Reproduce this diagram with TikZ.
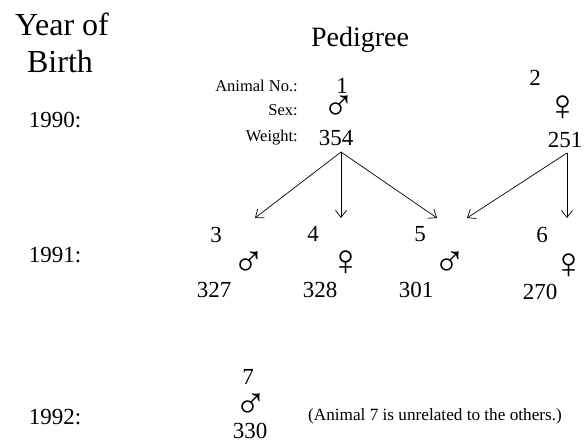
\documentclass[tikz,border=0pt]{standalone}
\usepackage{fontspec}
\setmainfont{Liberation Serif}
\usetikzlibrary{arrows.meta,positioning}

\begin{document}
\begin{tikzpicture}[x=1pt, y=-1pt,
  head/.style={font=\fontsize{32}{36}\selectfont, inner sep=0pt, anchor=base},
  ttl/.style={font=\fontsize{28}{33}\selectfont, inner sep=0pt, anchor=base},
  yr/.style={font=\fontsize{23}{25}\selectfont, inner sep=0pt},
  aid/.style={font=\fontsize{23}{25}\selectfont, inner sep=0pt},
  sx/.style={font=\fontsize{44}{46}\selectfont, inner sep=0pt},
  wt/.style={font=\fontsize{23}{25}\selectfont, inner sep=0pt},
  key/.style={font=\fontsize{16.5}{18}\selectfont, inner sep=0pt, anchor=base east},
  note/.style={font=\fontsize{17.2}{19}\selectfont, inner sep=0pt, anchor=base},
  link/.style={->, line width=0.7pt},
  >={Straight Barb[length=7pt,width=11pt]}]

  \useasboundingbox (0,0) rectangle (584,443);

  % headings
  \node[head] (hyear) at (62,36) {Year of};
  \node[head] (hbirth) at (60,73) {Birth};
  \node[ttl] (hped) at (360,47) {Pedigree};

  % years
  \node[yr] (y90) at (55,120) {1990:};
  \node[yr] (y91) at (55,255) {1991:};
  \node[yr] (y92) at (55,417) {1992:};

  % key for the records
  \node[key] (kno) at (298,92) {Animal No.:};
  \node[key] (ksex) at (298,115.5) {Sex:};
  \node[key] (kwt) at (298,142) {Weight:};

  % parents
  \node[aid] (a1) at (342,86) {1};
  \node[sx] (s1) at (339,108) {♂};
  \node[wt] (w1) at (336,138) {354};
  \node[aid] (a2) at (535,78) {2};
  \node[sx] (s2) at (563,108) {♀};
  \node[wt] (w2) at (565,140) {251};

  % offspring
  \node[aid] (a3) at (216,235) {3};
  \node[sx] (s3) at (249,264) {♂};
  \node[wt] (w3) at (214,290) {327};
  \node[aid] (a4) at (313,234) {4};
  \node[sx] (s4) at (346,263) {♀};
  \node[wt] (w4) at (320,290) {328};
  \node[aid] (a5) at (420,234) {5};
  \node[sx] (s5) at (450,264) {♂};
  \node[wt] (w5) at (416,290) {301};
  \node[aid] (a6) at (542,235) {6};
  \node[sx] (s6) at (569,266) {♀};
  \node[wt] (w6) at (540,292) {270};

  % unrelated animal
  \node[aid] (a7) at (248,377) {7};
  \node[sx] (s7) at (251,406) {♂};
  \node[wt] (w7) at (250,431) {330};
  \node[note] (n7) at (435,421) {(Animal 7 is unrelated to the others.)};

  % arrow ends
  \coordinate (f1) at (341,152);
  \coordinate (f2) at (567,153);
  \coordinate (t3) at (255,218);
  \coordinate (t4) at (341,218);
  \coordinate (t5a) at (437,218);
  \coordinate (t5b) at (467,218);
  \coordinate (t6) at (567,218);

  \draw[link] (f1) -- (t3);
  \draw[link] (f1) -- (t4);
  \draw[link] (f1) -- (t5a);
  \draw[link] (f2) -- (t5b);
  \draw[link] (f2) -- (t6);
\end{tikzpicture}
\end{document}
